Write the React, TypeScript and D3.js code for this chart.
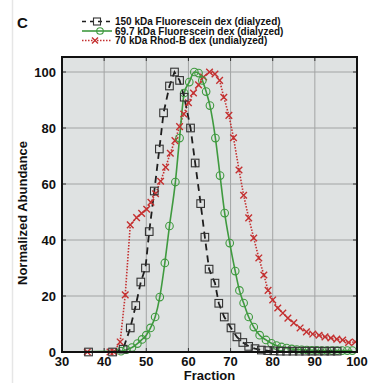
import React, { useEffect, useRef } from "react";
import * as d3 from "d3";

const xTicks = [30, 40, 50, 60, 70, 80, 90, 100];
const yTicks = [0, 20, 40, 60, 80, 100];

const seriesNames = [
  "150 kDa Fluorescein dex (dialyzed)",
  "69.7 kDa Fluorescein dex (dialyzed)",
  "70 kDa Rhod-B dex (undialyzed)",
];

// 150 kDa Fluorescein dex (dialyzed) — black squares, dashed
const fraction150 = [28, 36.3, 42, 44.5, 46.2, 47.5, 48.7, 49.8, 50.7, 51.9, 53.1, 54.1, 55.5, 56.7, 57.9, 59, 60.5, 61.6, 62.9, 63.9, 64.9, 66.3, 67.2, 68.5, 70.1, 71.5, 72.9, 74.3, 75.8, 77.3, 78.8, 80.3, 81.8, 83.3, 84.8, 86.3, 87.8, 89.3, 90.8, 92.3, 93.8, 95.3];
const abund150 = [0, 0, 0, 1, 8.6, 16.6, 25, 30, 43, 57.5, 72.5, 85.4, 95, 100, 97, 91, 80, 67.5, 53, 41, 29.6, 24.6, 17.4, 12.5, 8.6, 5.4, 3.4, 2, 1.2, 0.7, 0.5, 0.4, 0.3, 0.3, 0.3, 0.3, 0.3, 0.3, 0.3, 0.3, 0.3, 0.3];

// 69.7 kDa Fluorescein dex (dialyzed) — green circles, solid
const fraction697 = [28, 44, 45.3, 46.6, 47.9, 49, 50, 51, 52.1, 53.2, 54.4, 55.5, 56.9, 57.9, 59, 60.2, 61.4, 62.4, 63.3, 64.2, 65.1, 66.4, 67.5, 68.6, 69.8, 71.1, 72.1, 73.1, 74.3, 75.5, 76.9, 78.4, 79.7, 80.9, 82.1, 83.3, 84.5, 85.7, 86.9, 88.1, 89.3, 90.5, 91.7, 92.9, 94.1, 95.3, 96.5, 97.7, 98.9];
const abund697 = [0, 0.3, 0.8, 1.6, 3, 4.5, 6, 8.6, 12.5, 19.6, 31.8, 45, 60.7, 76.4, 92.5, 96.4, 100, 99.6, 97, 93, 88, 76.4, 63, 49.6, 38.9, 28.9, 22, 17.5, 12.5, 8.9, 6, 4.3, 3.1, 2.3, 1.8, 1.4, 1.1, 0.9, 0.8, 0.7, 0.6, 0.6, 0.5, 0.5, 0.5, 0.5, 0.5, 0.5, 0.5];

// 70 kDa Rhod-B dex (undialyzed) — red crosses, dotted
const fraction70 = [28, 36, 41.4, 42.3, 43.8, 45, 46.2, 47.7, 48.9, 50.1, 51.1, 52.2, 53.4, 54.6, 55.7, 56.8, 57.9, 58.9, 60, 61.2, 62.4, 63.6, 65, 66.3, 67.4, 68.4, 69.6, 70.7, 72, 73.1, 74.3, 75.5, 76.7, 77.9, 78.9, 80, 81.2, 82.4, 83.6, 85, 86.5, 88, 89.5, 91, 92.4, 93.8, 95.2, 96.6, 98, 99.6];
const abund70 = [0, 0, 0, 0, 3.6, 20.4, 45.4, 48, 49.5, 51, 53.5, 56.5, 61, 66, 71, 75.5, 80.5, 85, 89, 92.5, 95.4, 98.2, 100, 99.3, 97, 91, 84.5, 76.5, 65, 56, 47.9, 40.7, 33.6, 27.5, 22, 18.6, 15.7, 13.9, 12.1, 10.4, 8.6, 7.2, 6.4, 6, 5.4, 5, 4.6, 4.3, 3.4, 3.6];

const BLACK = "#1e1e1e";
const GREEN = "#3f9a3f";
const RED = "#c43030";

export default function App() {
  const ref = useRef<SVGSVGElement>(null);

  useEffect(() => {
    const svg = d3.select(ref.current);
    svg.selectAll("*").remove();

    const left = 62, right = 357, top = 57, bottom = 352;
    const x = d3.scaleLinear().domain([30, 100]).range([left, right]);
    const y = d3.scaleLinear().domain([0, 100]).range([bottom, 72]);

    // page edge line
    svg.append("line").attr("x1", 12.5).attr("x2", 12.5).attr("y1", 0).attr("y2", 383)
      .attr("stroke", "#e6e6e6").attr("stroke-width", 1.5);

    // plot background
    svg.append("rect").attr("x", left).attr("y", top).attr("width", right - left).attr("height", bottom - top)
      .attr("fill", "#dfe2e2");

    const g = svg.append("g");
    // grid
    g.selectAll(".vg").data(xTicks.slice(1, -1)).enter().append("line")
      .attr("x1", d => x(d)).attr("x2", d => x(d)).attr("y1", top).attr("y2", bottom)
      .attr("stroke", "#a2a4a4").attr("stroke-width", 1);
    g.selectAll(".hg").data(yTicks.slice(1)).enter().append("line")
      .attr("x1", left).attr("x2", right).attr("y1", d => y(d)).attr("y2", d => y(d))
      .attr("stroke", "#a2a4a4").attr("stroke-width", 1);

    // inner ticks
    const tl = 4;
    xTicks.slice(1, -1).forEach(t => {
      g.append("line").attr("x1", x(t)).attr("x2", x(t)).attr("y1", bottom).attr("y2", bottom - tl).attr("stroke", "#333");
      g.append("line").attr("x1", x(t)).attr("x2", x(t)).attr("y1", top).attr("y2", top + tl).attr("stroke", "#333");
    });
    yTicks.slice(1).forEach(t => {
      g.append("line").attr("x1", left).attr("x2", left + tl).attr("y1", y(t)).attr("y2", y(t)).attr("stroke", "#333");
      g.append("line").attr("x1", right).attr("x2", right - tl).attr("y1", y(t)).attr("y2", y(t)).attr("stroke", "#333");
    });

    // clip
    svg.append("defs").append("clipPath").attr("id", "clip")
      .append("rect").attr("x", left).attr("y", top - 10).attr("width", right - left).attr("height", bottom - top + 16);

    const plot = svg.append("g").attr("clip-path", "url(#clip)");
    const line = d3.line<[number, number]>().x(d => x(d[0])).y(d => y(d[1]));

    const black = fraction150.map((f, i) => [f, abund150[i]] as [number, number]);
    const green = fraction697.map((f, i) => [f, abund697[i]] as [number, number]);
    const red = fraction70.map((f, i) => [f, abund70[i]] as [number, number]);

    // red dotted
    plot.append("path").attr("d", line(red)).attr("fill", "none").attr("stroke", RED)
      .attr("stroke-width", 1.6).attr("stroke-dasharray", "1.5,1.5");
    // green solid
    plot.append("path").attr("d", line.curve(d3.curveMonotoneX)(green)).attr("fill", "none").attr("stroke", GREEN)
      .attr("stroke-width", 1.6);
    line.curve(d3.curveLinear);
    // black dashed
    plot.append("path").attr("d", line(black)).attr("fill", "none").attr("stroke", BLACK)
      .attr("stroke-width", 1.8).attr("stroke-dasharray", "7,5");

    const drawX = (sel: any, cx: number, cy: number, s: number) => {
      sel.append("path").attr("d", `M${cx - s},${cy - s}L${cx + s},${cy + s}M${cx - s},${cy + s}L${cx + s},${cy - s}`)
        .attr("stroke", RED).attr("stroke-width", 1.4).attr("fill", "none");
    };
    const drawSq = (sel: any, cx: number, cy: number, s: number) => {
      sel.append("rect").attr("x", cx - s).attr("y", cy - s).attr("width", 2 * s).attr("height", 2 * s)
        .attr("fill", "none").attr("stroke", "#333").attr("stroke-width", 1.1);
    };
    const drawC = (sel: any, cx: number, cy: number, r: number) => {
      sel.append("circle").attr("cx", cx).attr("cy", cy).attr("r", r)
        .attr("fill", "none").attr("stroke", GREEN).attr("stroke-width", 1.1);
    };

    red.forEach(d => drawX(plot, x(d[0]), y(d[1]), 3.3));
    green.forEach(d => drawC(plot, x(d[0]), y(d[1]), 3.8));
    black.forEach(d => drawSq(plot, x(d[0]), y(d[1]), 3.8));

    // border
    svg.append("rect").attr("x", left).attr("y", top).attr("width", right - left).attr("height", bottom - top)
      .attr("fill", "none").attr("stroke", "#111").attr("stroke-width", 2);

    const font = "'Liberation Sans', Arial, sans-serif";
    // tick labels
    svg.selectAll(".xl").data(xTicks).enter().append("text")
      .attr("x", d => x(d)).attr("y", 366).attr("text-anchor", "middle")
      .attr("font-family", font).attr("font-weight", "bold").attr("font-size", 13).attr("fill", "#111")
      .text(d => String(d));
    svg.selectAll(".yl").data(yTicks).enter().append("text")
      .attr("x", 56).attr("y", d => y(d) + 4.5).attr("text-anchor", "end")
      .attr("font-family", font).attr("font-weight", "bold").attr("font-size", 13).attr("fill", "#111")
      .text(d => String(d));

    svg.append("text").attr("x", (left + right) / 2).attr("y", 379.5).attr("text-anchor", "middle")
      .attr("font-family", font).attr("font-weight", "bold").attr("font-size", 13).attr("fill", "#111")
      .text("Fraction");
    svg.append("text").attr("transform", `translate(27,213) rotate(-90)`).attr("text-anchor", "middle")
      .attr("font-family", font).attr("font-weight", "bold").attr("font-size", 13).attr("fill", "#111")
      .text("Normalized Abundance");

    svg.append("text").attr("x", 17).attr("y", 28)
      .attr("font-family", font).attr("font-weight", "bold").attr("font-size", 15).attr("fill", "#111")
      .text("C");

    // legend
    const rows = [21.5, 31, 40.5];
    const lx1 = 82, lx2 = 112, mx = 97;
    const lg = svg.append("g");
    lg.append("line").attr("x1", lx1).attr("x2", lx2).attr("y1", rows[0]).attr("y2", rows[0])
      .attr("stroke", BLACK).attr("stroke-width", 1.6).attr("stroke-dasharray", "4,4");
    drawSq(lg, mx, rows[0], 3.5);
    lg.append("line").attr("x1", lx1).attr("x2", lx2).attr("y1", rows[1]).attr("y2", rows[1])
      .attr("stroke", GREEN).attr("stroke-width", 1.6);
    drawC(lg, mx + 3, rows[1], 3.3);
    lg.append("line").attr("x1", lx1).attr("x2", lx2).attr("y1", rows[2]).attr("y2", rows[2])
      .attr("stroke", RED).attr("stroke-width", 1.4).attr("stroke-dasharray", "1.5,1.5");
    drawX(lg, mx - 2, rows[2], 3);
    seriesNames.forEach((n, i) => {
      lg.append("text").attr("x", 115).attr("y", rows[i] + 3.5)
        .attr("font-family", font).attr("font-weight", "bold").attr("font-size", 10).attr("fill", "#111")
        .text(n);
    });
  }, []);

  return (
    <svg ref={ref} width={373} height={383}
      style={{ position: "absolute", left: 0, top: 0, background: "#fff" }} />
  );
}
